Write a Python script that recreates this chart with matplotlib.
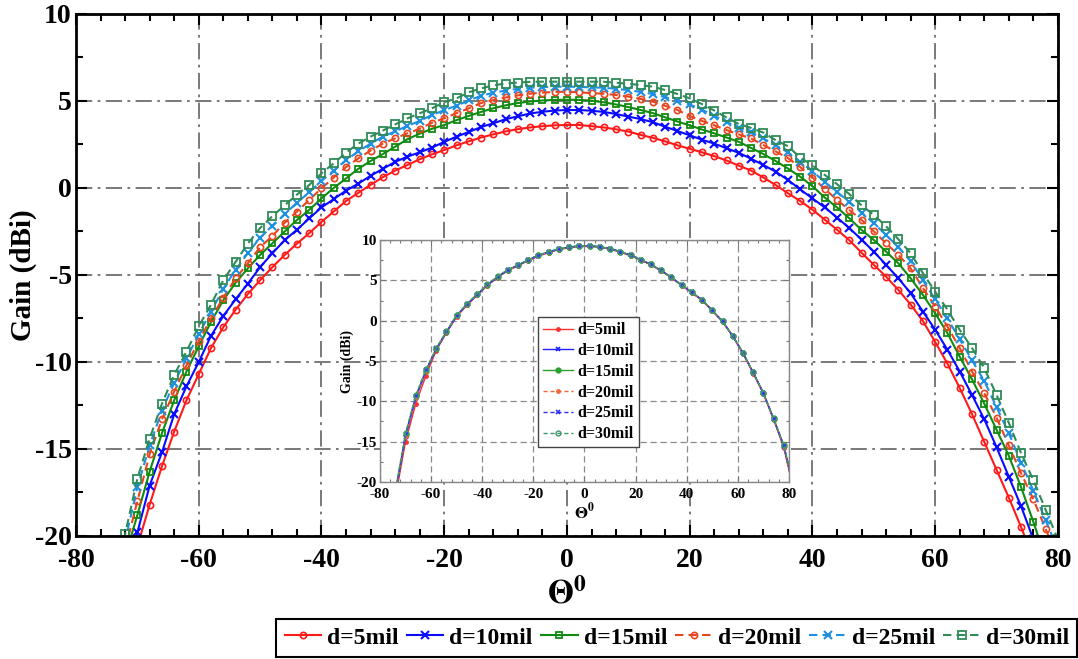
import matplotlib
matplotlib.use('Agg')
import matplotlib.pyplot as plt
from matplotlib.ticker import MultipleLocator

plt.rcParams['font.family'] = ['Liberation Serif', 'DejaVu Serif']
plt.rcParams['font.weight'] = 'bold'
plt.rcParams['mathtext.fontset'] = 'stix'
plt.rcParams['axes.unicode_minus'] = False

# ---------------- data (main plot) ----------------
theta = list(range(-74, 81, 2))

gain_5 = [-25.5, -23.0, -20.6, -18.2, -16.0, -14.0, -12.2, -10.7, -9.2, -8.0,
          -7.0, -6.1, -5.3, -4.55, -3.85, -3.2, -2.6, -1.95, -1.35, -0.75,
          -0.28, 0.18, 0.62, 1.0, 1.32, 1.65, 1.93, 2.18, 2.45, 2.68,
          2.9, 3.08, 3.25, 3.38, 3.48, 3.55, 3.6, 3.62, 3.62, 3.55,
          3.48, 3.37, 3.24, 3.05, 2.88, 2.68, 2.45, 2.25, 2.05, 1.83,
          1.58, 1.28, 1.0, 0.6, 0.17, -0.3, -0.75, -1.25, -1.82, -2.4,
          -3.0, -3.72, -4.42, -5.1, -5.86, -6.7, -7.65, -8.85, -10.1, -11.5,
          -13.0, -14.6, -16.2, -17.8, -19.5, -21.3, -23.2, -25.2]

gain_10 = [-25.0, -22.5, -19.8, -17.1, -15.2, -13.0, -11.4, -10.0, -8.5, -7.36,
           -6.4, -5.5, -4.55, -3.75, -3.0, -2.4, -1.75, -1.12, -0.64, -0.15,
           0.25, 0.7, 1.1, 1.5, 1.8, 2.05, 2.32, 2.65, 2.95, 3.22,
           3.5, 3.72, 3.95, 4.12, 4.28, 4.38, 4.45, 4.48, 4.48, 4.44,
           4.37, 4.25, 4.1, 3.96, 3.78, 3.52, 3.27, 3.03, 2.77, 2.55,
           2.28, 2.02, 1.68, 1.32, 0.94, 0.46, -0.08, -0.6, -1.12, -1.7,
           -2.3, -2.97, -3.66, -4.42, -5.19, -6.05, -7.1, -8.15, -9.3, -10.55,
           -11.9, -13.3, -14.9, -16.6, -18.3, -20.2, -22.2, -24.3]

gain_15 = [-24.0, -21.2, -18.8, -16.3, -14.1, -12.2, -10.55, -9.1, -7.7, -6.45,
           -5.45, -4.62, -3.85, -3.18, -2.5, -1.84, -1.26, -0.6, 0.0, 0.55,
           1.1, 1.55, 1.95, 2.37, 2.8, 3.12, 3.4, 3.62, 3.9, 4.14,
           4.37, 4.58, 4.75, 4.88, 4.97, 5.03, 5.06, 5.07, 5.06, 5.02,
           4.92, 4.8, 4.65, 4.48, 4.3, 4.06, 3.82, 3.6, 3.36, 3.14,
           2.9, 2.65, 2.3, 1.95, 1.55, 1.12, 0.65, 0.1, -0.55, -1.12,
           -1.74, -2.41, -2.99, -3.66, -4.33, -5.19, -6.15, -7.2, -8.35, -9.7,
           -11.0, -12.4, -13.9, -15.4, -17.2, -19.2, -21.3, -23.4]

gain_20 = [-23.8, -20.8, -18.0, -15.3, -13.3, -11.7, -10.2, -8.8, -7.5, -6.3,
           -5.2, -4.33, -3.4, -2.76, -2.0, -1.36, -0.69, -0.02, 0.6, 1.2,
           1.7, 2.15, 2.55, 2.85, 3.14, 3.4, 3.75, 4.0, 4.3, 4.58,
           4.88, 5.05, 5.2, 5.32, 5.42, 5.48, 5.52, 5.53, 5.5, 5.45,
           5.42, 5.34, 5.25, 5.12, 4.96, 4.72, 4.48, 4.14, 3.85, 3.6,
           3.33, 3.08, 2.85, 2.47, 2.1, 1.72, 1.2, 0.6, -0.05, -0.69,
           -1.26, -1.84, -2.5, -3.18, -3.85, -4.62, -5.75, -6.82, -7.97, -9.2,
           -10.55, -11.8, -13.2, -14.8, -16.4, -17.9, -19.6, -21.3]

gain_25 = [-23.5, -20.3, -17.2, -14.8, -12.8, -11.2, -9.8, -8.4, -7.1, -5.8,
           -4.7, -3.75, -2.85, -2.2, -1.5, -0.85, -0.25, 0.4, 1.0, 1.6,
           2.1, 2.55, 2.95, 3.25, 3.57, 3.85, 4.2, 4.47, 4.73, 5.03,
           5.3, 5.47, 5.6, 5.7, 5.76, 5.8, 5.82, 5.82, 5.81, 5.78,
           5.76, 5.7, 5.62, 5.52, 5.4, 5.22, 5.02, 4.8, 4.5, 4.15,
           3.8, 3.45, 3.2, 2.85, 2.45, 2.05, 1.5, 0.95, 0.35, -0.23,
           -0.8, -1.42, -2.03, -2.7, -3.4, -4.2, -5.3, -6.4, -7.5, -8.7,
           -9.9, -11.1, -12.6, -14.1, -15.8, -17.4, -19.1, -20.8]

gain_30 = [-23.3, -19.9, -16.7, -14.4, -12.4, -10.75, -9.4, -7.95, -6.7, -5.3,
           -4.25, -3.2, -2.3, -1.62, -1.0, -0.38, 0.17, 0.84, 1.42, 2.03,
           2.55, 2.95, 3.3, 3.65, 4.0, 4.29, 4.58, 4.93, 5.15, 5.5,
           5.72, 5.9, 6.0, 6.06, 6.1, 6.11, 6.11, 6.11, 6.11, 6.11,
           6.1, 6.05, 5.98, 5.92, 5.82, 5.63, 5.4, 5.15, 4.82, 4.45,
           4.05, 3.68, 3.45, 3.18, 2.75, 2.4, 1.75, 1.3, 0.75, 0.22,
           -0.35, -1.0, -1.55, -2.2, -2.95, -3.75, -4.9, -5.96, -7.0, -8.16,
           -9.2, -10.36, -11.9, -13.5, -15.25, -16.8, -18.5, -20.2]

labels = ['d=5mil', 'd=10mil', 'd=15mil', 'd=20mil', 'd=25mil', 'd=30mil']

# ---------------- data (inset) ----------------
inset_theta = list(range(-74, 83, 4))

inset_g5 = [-22.0, -15.0, -10.3, -6.8, -3.7, -1.5, 0.5, 1.9, 3.15, 4.35,
            5.35, 6.2, 6.8, 7.45, 8.0, 8.45, 8.8, 9.05, 9.2, 9.2,
            9.1, 8.85, 8.5, 8.05, 7.5, 6.9, 6.15, 5.3, 4.35, 3.45,
            2.5, 1.2, -0.15, -1.95, -4.1, -6.55, -9.1, -12.3, -15.8, -21.3]
inset_g10 = [-21.6, -14.4, -9.6, -6.3, -3.55, -1.45, 0.6, 2.0, 3.2, 4.4,
             5.4, 6.25, 6.85, 7.5, 8.05, 8.5, 8.85, 9.1, 9.25, 9.25,
             9.15, 8.9, 8.55, 8.1, 7.55, 6.95, 6.2, 5.35, 4.4, 3.5,
             2.55, 1.25, -0.1, -1.9, -4.0, -6.45, -9.0, -12.2, -15.6, -21.0]
inset_g15 = [-21.4, -14.2, -9.4, -6.2, -3.5, -1.4, 0.65, 2.05, 3.25, 4.45,
             5.45, 6.3, 6.9, 7.55, 8.1, 8.55, 8.9, 9.12, 9.27, 9.27,
             9.17, 8.92, 8.57, 8.12, 7.57, 6.97, 6.22, 5.37, 4.42, 3.52,
             2.57, 1.27, -0.08, -1.88, -3.98, -6.42, -8.97, -12.15, -15.55, -20.9]
inset_g20 = [-21.5, -14.3, -9.5, -6.2, -3.5, -1.4, 0.6, 2.0, 3.2, 4.4,
             5.4, 6.25, 6.85, 7.5, 8.05, 8.5, 8.85, 9.1, 9.25, 9.25,
             9.15, 8.9, 8.55, 8.1, 7.55, 6.95, 6.2, 5.35, 4.4, 3.5,
             2.55, 1.25, -0.1, -1.9, -4.0, -6.45, -9.0, -12.2, -15.6, -21.0]
inset_g25 = [-21.3, -14.1, -9.4, -6.15, -3.45, -1.38, 0.62, 2.02, 3.22, 4.42,
             5.42, 6.27, 6.87, 7.52, 8.07, 8.52, 8.87, 9.12, 9.27, 9.27,
             9.17, 8.92, 8.57, 8.12, 7.57, 6.97, 6.22, 5.37, 4.42, 3.52,
             2.57, 1.27, -0.08, -1.88, -3.98, -6.42, -8.97, -12.15, -15.5, -20.8]
inset_g30 = [-21.0, -13.9, -9.2, -6.0, -3.4, -1.3, 0.7, 2.1, 3.3, 4.5,
             5.5, 6.32, 6.92, 7.57, 8.1, 8.55, 8.9, 9.12, 9.27, 9.27,
             9.17, 8.92, 8.57, 8.12, 7.57, 6.97, 6.22, 5.37, 4.42, 3.52,
             2.57, 1.27, -0.08, -1.88, -3.98, -6.42, -8.97, -12.1, -15.45, -20.7]

# ---------------- styles ----------------
main_styles = [
    dict(color='#ff1a1a', ls='-', marker='o', ms=4.5, mfc='none', mew=1.2),
    dict(color='#0a0aff', ls='-', marker='x', ms=6, mew=1.5),
    dict(color='#118a11', ls='-', marker='s', ms=5, mfc='none', mew=1.3),
    dict(color='#e8451e', ls=(0, (4, 2.5)), marker='o', ms=4.5, mfc='none', mew=1.2),
    dict(color='#1f8fdf', ls=(0, (4, 2.5)), marker='x', ms=6, mew=1.5),
    dict(color='#2e8b57', ls=(0, (4, 2.5)), marker='s', ms=6, mfc='none', mew=1.3),
]
inset_styles = [
    dict(color='#ff3030', ls='-', marker='o', ms=2.5),
    dict(color='#2020ff', ls='-', marker='x', ms=3.5, mew=1.2),
    dict(color='#2ca02c', ls='-', marker='o', ms=3.5),
    dict(color='#ee6a3a', ls=(0, (3, 2)), marker='o', ms=2.5),
    dict(color='#3030ff', ls=(0, (3, 2)), marker='x', ms=3.5, mew=1.2),
    dict(color='#3c9a6a', ls=(0, (3, 2)), marker='o', ms=3.5, mfc='none'),
]

main_series = [gain_5, gain_10, gain_15, gain_20, gain_25, gain_30]
inset_series = [inset_g5, inset_g10, inset_g15, inset_g20, inset_g25, inset_g30]

fig = plt.figure(figsize=(10.78, 6.59), dpi=100)

# ---------------- main axes ----------------
ax = fig.add_axes([0.0705, 0.1867, 0.9109, 0.7921])
handles = []
for g, st, lab in zip(main_series, main_styles, labels):
    h, = ax.plot(theta, g, lw=1.5, label=lab, **st)
    handles.append(h)

ax.set_xlim(-80, 80)
ax.set_ylim(-20, 10)
ax.xaxis.set_major_locator(MultipleLocator(20))
ax.xaxis.set_minor_locator(MultipleLocator(4))
ax.yaxis.set_major_locator(MultipleLocator(5))
ax.yaxis.set_minor_locator(MultipleLocator(2.5))
ax.grid(True, which='major', color='#6e6e6e', linestyle=(0, (9, 3, 1.5, 3)), linewidth=1.3)
ax.set_axisbelow(True)
ax.tick_params(which='both', direction='in', top=True, right=True, width=1.5, color='black')
ax.tick_params(which='major', length=8)
ax.tick_params(which='minor', length=5)
ax.tick_params(axis='x', labelsize=20, pad=9)
ax.tick_params(axis='y', labelsize=20, pad=3)
for lbl in ax.get_xticklabels() + ax.get_yticklabels():
    lbl.set_fontweight('bold')
for sp in ax.spines.values():
    sp.set_linewidth(2)
ax.set_ylabel('Gain (dBi)', fontsize=21, fontweight='bold')
ax.yaxis.set_label_coords(-0.04, 0.5)
ax.set_xlabel(r'$\Theta^0$', fontsize=24)
ax.xaxis.set_label_coords(0.5, -0.08)

# ---------------- inset ----------------
ins = fig.add_axes([0.3525, 0.2686, 0.3794, 0.3672])
ins.set_facecolor('white')
ihandles = []
for g, st, lab in zip(inset_series, inset_styles, labels):
    h, = ins.plot(inset_theta, g, lw=1.0, label=lab, **st)
    ihandles.append(h)
ins.set_xlim(-80, 80)
ins.set_ylim(-20, 10)
ins.xaxis.set_major_locator(MultipleLocator(20))
ins.xaxis.set_minor_locator(MultipleLocator(4))
ins.yaxis.set_major_locator(MultipleLocator(5))
ins.yaxis.set_minor_locator(MultipleLocator(2.5))
ins.grid(True, which='major', color='#8a8a8a', linestyle=(0, (5, 3)), linewidth=0.9)
ins.set_axisbelow(True)
ins.tick_params(which='both', direction='in', top=True, right=True, width=0.8, color='#777777')
ins.tick_params(which='major', length=4, labelsize=11)
ins.tick_params(axis='x', pad=4)
ins.tick_params(axis='y', pad=2)
ins.tick_params(which='minor', length=2)
for lbl in ins.get_xticklabels() + ins.get_yticklabels():
    lbl.set_fontweight('bold')
for sp in ins.spines.values():
    sp.set_linewidth(1.0)
    sp.set_color('#888888')
ins.set_ylabel('Gain (dBi)', fontsize=10, fontweight='bold', labelpad=2)
ins.set_xlabel(r'$\Theta^0$', fontsize=12, labelpad=1)
leg_in = ins.legend(ihandles, labels, loc='upper left', bbox_to_anchor=(0.386, 0.68),
                    borderaxespad=0, handlelength=1.9, handletextpad=0.3,
                    labelspacing=0.3, borderpad=0.3, fancybox=False, framealpha=1,
                    edgecolor='#444444', prop={'weight': 'bold', 'size': 11.5})
leg_in.get_frame().set_linewidth(1.0)

# ---------------- bottom legend ----------------
leg = fig.legend(handles, labels, loc='lower right', bbox_to_anchor=(0.9995, 0.003),
                 ncol=6, fancybox=False, framealpha=1, edgecolor='black',
                 handlelength=1.55, handletextpad=0.25, columnspacing=0.35,
                 borderpad=0.35, borderaxespad=0, prop={'weight': 'bold', 'size': 17})
leg.get_frame().set_linewidth(1.5)

fig.savefig('out.png', dpi=100)
